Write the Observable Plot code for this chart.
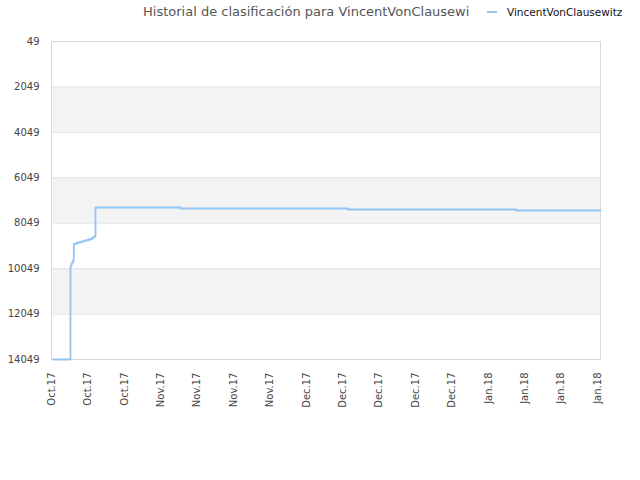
<!DOCTYPE html>
<html>
<head>
<meta charset="utf-8">
<script src="https://cdn.jsdelivr.net/npm/d3@7"></script>
<script src="https://cdn.jsdelivr.net/npm/@observablehq/plot@0.6"></script>
<style>
  html, body { margin: 0; padding: 0; background: #fff; }
  #wrap { position: relative; width: 640px; height: 480px; font-family: "DejaVu Sans", sans-serif; }
  #title { position: absolute; left: 143px; top: 4px; font-size: 13px; color: #555; white-space: nowrap; }
  #legend { position: absolute; left: 487px; top: 6px; font-size: 10.5px; color: #111; white-space: nowrap; display: flex; align-items: center; }
  #legend .sw { display: inline-block; width: 10px; height: 2px; background: #94c4f2; margin-right: 10px; }
</style>
</head>
<body>
<div id="wrap">
  <div id="chart"></div>
  <div id="title">Historial de clasificación para VincentVonClausewi</div>
  <div id="legend"><span class="sw"></span>VincentVonClausewitz</div>
</div>
<script>
const seriesName = "VincentVonClausewitz";
const dates = [
  "2017-10-15T08:00Z", "2017-10-18T15:30Z", "2017-10-18T20:00Z", "2017-10-19T01:00Z",
  "2017-10-19T05:30Z", "2017-10-19T07:00Z", "2017-10-19T19:00Z", "2017-10-20T06:00Z",
  "2017-10-20T21:30Z", "2017-10-21T12:45Z", "2017-10-22T04:00Z", "2017-10-22T19:40Z",
  "2017-10-23T03:00Z", "2017-10-23T11:00Z", "2017-11-08T19:00Z", "2017-12-11T02:00Z",
  "2018-01-12T08:00Z", "2018-01-28T13:00Z"
];
const ranks = [
  14049, 9955, 9823, 9735,
  9603, 8956, 8912, 8886,
  8842, 8798, 8754, 8692,
  8635, 7358, 7402, 7446,
  7490, 7490
];
const xDomain = ["2017-10-15T00:00Z", "2018-01-28T13:00Z"];
const yTicks = [49, 2049, 4049, 6049, 8049, 10049, 12049, 14049];
const bandStarts = [2049, 6049, 10049];
const bandEnds = [4049, 8049, 12049];
const tickDates = [
  "2017-10-15", "2017-10-22", "2017-10-29", "2017-11-05", "2017-11-12", "2017-11-19",
  "2017-11-26", "2017-12-03", "2017-12-10", "2017-12-17", "2017-12-24", "2017-12-31",
  "2018-01-07", "2018-01-14", "2018-01-21", "2018-01-28"
];

const data = dates.map((d, i) => ({date: new Date(d), rank: ranks[i]}));
const bands = bandStarts.map((s, i) => ({y1: s, y2: bandEnds[i]}));
const ticks = tickDates.map(d => new Date(d + "T00:00Z"));
const fmt = d3.utcFormat("%b.%y");

const chart = Plot.plot({
  width: 640,
  height: 480,
  marginTop: 41,
  marginRight: 40,
  marginBottom: 121,
  marginLeft: 51,
  style: {fontFamily: "DejaVu Sans, sans-serif", fontSize: "10px", background: "#fff"},
  x: {type: "utc", domain: xDomain.map(d => new Date(d))},
  y: {domain: [14049, 49]},
  marks: [
    Plot.rect(bands, {y1: "y1", y2: "y2", fill: "#f3f3f3"}),
    Plot.ruleY(yTicks, {stroke: "#e3e3e3"}),
    Plot.frame({stroke: "#d8d8d8"}),
    Plot.line(data, {x: "date", y: "rank", curve: "step-after", stroke: "#94c4f2", strokeWidth: 1.8}),
    Plot.axisY(yTicks, {tickSize: 0, tickPadding: 12, fill: "#444", label: null, tickFormat: d => String(d)}),
    Plot.axisX(ticks, {tickSize: 0, tickRotate: -90, tickPadding: 13, tickFormat: fmt, fill: "#444", label: null})
  ]
});
document.getElementById("chart").appendChild(chart);
</script>
</body>
</html>
